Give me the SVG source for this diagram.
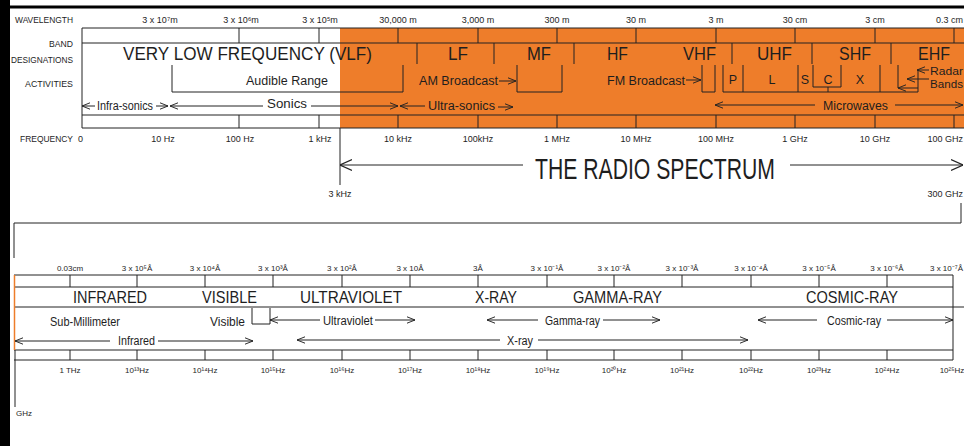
<svg xmlns="http://www.w3.org/2000/svg" width="964" height="446" viewBox="0 0 964 446">
<style>
.ln{stroke:#222;stroke-width:1;fill:none}
.t{font-family:"Liberation Sans",Arial,sans-serif;fill:#1e1e1e}
.sm{font-size:9px}
.xs{font-size:8px}
.act{font-size:12.5px}
.rb{font-size:11px}
.band{font-size:18px}
.band2{font-size:17px}
.mid{text-anchor:middle}
.end{text-anchor:end}
</style>
<defs>
<marker id="ah" viewBox="0 0 10 10" refX="10" refY="5" markerWidth="8" markerHeight="8" markerUnits="userSpaceOnUse" orient="auto-start-reverse"><path d="M0,1 L10,5 L0,9" fill="none" stroke="#222" stroke-width="1.2"/></marker>
<marker id="ahb" viewBox="0 0 10 10" refX="10" refY="5" markerWidth="12" markerHeight="12" markerUnits="userSpaceOnUse" orient="auto-start-reverse"><path d="M0,0.5 L10,5 L0,9.5" fill="none" stroke="#222" stroke-width="1"/></marker>
</defs>
<rect width="964" height="446" fill="#ffffff"/>
<g id="frame">
<rect x="0" y="0" width="10" height="446" fill="#000"/>
<rect x="0" y="5.5" width="964" height="3" fill="#000"/>
</g>

<g id="radio-spectrum">
<rect x="340" y="28" width="630" height="100" fill="#EE7D2A"/>
<path class="ln" d="M82,28 H964 M82,43 H964 M82,115 H964 M82,128 H964 M82,28 V128"/>
<path class="ln" d="M239,28 V43 M319,28 V43 M398,28 V43 M478,28 V43 M557,28 V43 M636,28 V43 M716,28 V43 M795,28 V43 M875,28 V43 M954,28 V43"/>
<path class="ln" d="M239,115 V128 M319,115 V128 M398,115 V128 M478,115 V128 M557,115 V128 M636,115 V128 M716,115 V128 M795,115 V128 M875,115 V128 M954,115 V128"/>
<path class="ln" d="M417,43 V64 M494,43 V64 M574,43 V64 M732,43 V64 M812,43 V64 M891,43 V64"/>
<g class="t">
<text class="sm end" x="73" y="23" textLength="58" lengthAdjust="spacingAndGlyphs">WAVELENGTH</text>
<text class="sm end" x="73" y="47" textLength="24" lengthAdjust="spacingAndGlyphs">BAND</text>
<text class="sm end" x="73" y="63" textLength="62" lengthAdjust="spacingAndGlyphs">DESIGNATIONS</text>
<text class="sm end" x="73" y="87" textLength="48" lengthAdjust="spacingAndGlyphs">ACTIVITIES</text>
<text class="sm end" x="73" y="142" textLength="53" lengthAdjust="spacingAndGlyphs">FREQUENCY</text>
<text class="sm" x="78" y="142">0</text>
</g>
<g class="t sm mid">
<text x="160" y="23">3 x 10⁷m</text>
<text x="241" y="23">3 x 10⁶m</text>
<text x="320" y="23">3 x 10⁵m</text>
<text x="398" y="23">30,000 m</text>
<text x="478" y="23">3,000 m</text>
<text x="557" y="23">300 m</text>
<text x="636" y="23">30 m</text>
<text x="716" y="23">3 m</text>
<text x="795" y="23">30 cm</text>
<text x="875" y="23">3 cm</text>
<text x="963" y="23" text-anchor="end">0.3 cm</text>
<text x="163" y="142">10 Hz</text>
<text x="240" y="142">100 Hz</text>
<text x="320" y="142">1 kHz</text>
<text x="398" y="142">10 kHz</text>
<text x="478" y="142">100kHz</text>
<text x="557" y="142">1 MHz</text>
<text x="636" y="142">10 MHz</text>
<text x="716" y="142">100 MHz</text>
<text x="795" y="142">1 GHz</text>
<text x="875" y="142">10 GHz</text>
<text x="963" y="142" text-anchor="end">100 GHz</text>
</g>
<g class="t band">
<text x="123" y="60" textLength="249" lengthAdjust="spacingAndGlyphs">VERY LOW FREQUENCY (VLF)</text>
<text x="448" y="60" textLength="20" lengthAdjust="spacingAndGlyphs">LF</text>
<text x="527" y="60" textLength="24" lengthAdjust="spacingAndGlyphs">MF</text>
<text x="607" y="60" textLength="21" lengthAdjust="spacingAndGlyphs">HF</text>
<text x="683" y="60" textLength="33" lengthAdjust="spacingAndGlyphs">VHF</text>
<text x="757" y="60" textLength="35" lengthAdjust="spacingAndGlyphs">UHF</text>
<text x="839" y="60" textLength="32" lengthAdjust="spacingAndGlyphs">SHF</text>
<text x="918" y="60" textLength="32" lengthAdjust="spacingAndGlyphs">EHF</text>
</g>
<g id="activities-radio">
<path class="ln" d="M172,65 V92 H403 V65"/>
<path class="ln" d="M517,65 V92 H562 V65"/>
<path class="ln" d="M702,65 V92 H715 V65"/>
<path class="ln" d="M723,65 V92 H918 V70 M743,65 V92 M798,65 V92 M880,65 V92 M898,65 V88"/>
<path class="ln" d="M813,65 V87 H841 V65 M828,87 V92"/>
<line class="ln" x1="499" y1="81" x2="516" y2="81" marker-end="url(#ah)"/>
<line class="ln" x1="686" y1="80" x2="701" y2="80" marker-end="url(#ah)"/>
<line class="ln" x1="917" y1="70" x2="929" y2="70" marker-start="url(#ah)"/>
<line class="ln" x1="907" y1="79" x2="929" y2="79" marker-start="url(#ah)"/>
<line class="ln" x1="898" y1="88" x2="918" y2="88" marker-start="url(#ah)"/>
<line class="ln" x1="82" y1="106" x2="95" y2="106" marker-start="url(#ah)"/>
<line class="ln" x1="156" y1="106" x2="168" y2="106" marker-end="url(#ah)"/>
<line class="ln" x1="170" y1="106" x2="263" y2="106" marker-start="url(#ah)"/>
<line class="ln" x1="311" y1="106" x2="398" y2="106" marker-end="url(#ah)"/>
<line class="ln" x1="400" y1="106" x2="425" y2="106" marker-start="url(#ah)"/>
<line class="ln" x1="498" y1="107" x2="513" y2="107" marker-end="url(#ah)"/>
<line class="ln" x1="715" y1="105" x2="815" y2="105" marker-start="url(#ah)"/>
<line class="ln" x1="895" y1="105" x2="963" y2="105" marker-end="url(#ah)"/>
<g class="t act">
<text x="246" y="85" textLength="82" lengthAdjust="spacingAndGlyphs">Audible Range</text>
<text x="419" y="85" textLength="79" lengthAdjust="spacingAndGlyphs">AM Broadcast</text>
<text x="607" y="85" textLength="78" lengthAdjust="spacingAndGlyphs">FM Broadcast</text>
<text x="97" y="110" textLength="56" lengthAdjust="spacingAndGlyphs">Infra-sonics</text>
<text x="267" y="108" textLength="40" lengthAdjust="spacingAndGlyphs">Sonics</text>
<text x="428" y="110" textLength="67" lengthAdjust="spacingAndGlyphs">Ultra-sonics</text>
<text x="823" y="110" textLength="65" lengthAdjust="spacingAndGlyphs">Microwaves</text>
<text class="rb" x="930" y="75" textLength="33" lengthAdjust="spacingAndGlyphs">Radar</text>
<text class="rb" x="930" y="88" textLength="33" lengthAdjust="spacingAndGlyphs">Bands</text>
<text class="mid" x="733" y="84">P</text>
<text class="mid" x="772" y="84">L</text>
<text class="mid" x="805" y="84">S</text>
<text class="mid" x="828" y="84">C</text>
<text class="mid" x="860" y="84">X</text>
</g>
</g>
<line class="ln" x1="340" y1="128" x2="340" y2="185"/>
<line class="ln" x1="340" y1="165" x2="523" y2="165" marker-start="url(#ahb)"/>
<line class="ln" x1="790" y1="165" x2="963" y2="165" marker-end="url(#ahb)"/>
<text class="t" x="535" y="179" font-size="29" textLength="240" lengthAdjust="spacingAndGlyphs">THE RADIO SPECTRUM</text>
<text class="t sm mid" x="340" y="197">3 kHz</text>
<text class="t sm" x="963" y="197" text-anchor="end">300 GHz</text>
</g>

<g id="connectors">
<path class="ln" d="M961,203 V223 H14 V258"/>
<path class="ln" d="M15,350 V407"/>
</g>

<g id="optical-spectrum">
<path class="ln" d="M14,275 H953 M14,287 H953 M14,307 H964 M14,350 H953 M14,360 H953 M953,275 V360"/>
<line x1="14.5" y1="275" x2="14.5" y2="350" stroke="#EE7D2A" stroke-width="1.5"/>
<path class="ln" d="M70,275 V287 M137,275 V287 M205,275 V287 M273,275 V287 M342,275 V287 M410,275 V287 M478,275 V287 M547,275 V287 M614,275 V287 M682,275 V287 M751,275 V287 M819,275 V287 M887,275 V287"/>
<path class="ln" d="M70,350 V360 M137,350 V360 M205,350 V360 M273,350 V360 M342,350 V360 M410,350 V360 M478,350 V360 M547,350 V360 M614,350 V360 M682,350 V360 M751,350 V360 M819,350 V360 M887,350 V360"/>
<g class="t xs mid">
<text x="70" y="271">0.03cm</text>
<text x="137" y="271">3 x 10⁵Å</text>
<text x="205" y="271">3 x 10⁴Å</text>
<text x="273" y="271">3 x 10³Å</text>
<text x="342" y="271">3 x 10²Å</text>
<text x="410" y="271">3 x 10Å</text>
<text x="478" y="271">3Å</text>
<text x="547" y="271">3 x 10⁻¹Å</text>
<text x="614" y="271">3 x 10⁻²Å</text>
<text x="682" y="271">3 x 10⁻³Å</text>
<text x="751" y="271">3 x 10⁻⁴Å</text>
<text x="819" y="271">3 x 10⁻⁵Å</text>
<text x="887" y="271">3 x 10⁻⁶Å</text>
<text x="963" y="271" text-anchor="end">3 x 10⁻⁷Å</text>
<text x="70" y="373">1 THz</text>
<text x="137" y="373">10¹³Hz</text>
<text x="205" y="373">10¹⁴Hz</text>
<text x="273" y="373">10¹⁵Hz</text>
<text x="342" y="373">10¹⁶Hz</text>
<text x="410" y="373">10¹⁷Hz</text>
<text x="478" y="373">10¹⁸Hz</text>
<text x="547" y="373">10¹⁹Hz</text>
<text x="614" y="373">10²⁰Hz</text>
<text x="682" y="373">10²¹Hz</text>
<text x="751" y="373">10²²Hz</text>
<text x="819" y="373">10²³Hz</text>
<text x="887" y="373">10²⁴Hz</text>
<text x="952" y="373">10²⁵Hz</text>
</g>
<text class="t xs" x="16" y="416">GHz</text>
<g class="t band2">
<text x="73" y="303" textLength="74" lengthAdjust="spacingAndGlyphs">INFRARED</text>
<text x="202" y="303" textLength="55" lengthAdjust="spacingAndGlyphs">VISIBLE</text>
<text x="300" y="303" textLength="102" lengthAdjust="spacingAndGlyphs">ULTRAVIOLET</text>
<text x="475" y="303" textLength="42" lengthAdjust="spacingAndGlyphs">X-RAY</text>
<text x="573" y="303" textLength="89" lengthAdjust="spacingAndGlyphs">GAMMA-RAY</text>
<text x="806" y="303" textLength="92" lengthAdjust="spacingAndGlyphs">COSMIC-RAY</text>
</g>
<path class="ln" d="M252,308 V324 H270 V308"/>
<line class="ln" x1="270" y1="320" x2="320" y2="320" marker-start="url(#ah)"/>
<line class="ln" x1="375" y1="320" x2="415" y2="320" marker-end="url(#ah)"/>
<line class="ln" x1="487" y1="320" x2="538" y2="320" marker-start="url(#ah)"/>
<line class="ln" x1="603" y1="320" x2="660" y2="320" marker-end="url(#ah)"/>
<line class="ln" x1="758" y1="320" x2="817" y2="320" marker-start="url(#ah)"/>
<line class="ln" x1="887" y1="320" x2="953" y2="320" marker-end="url(#ah)"/>
<line class="ln" x1="15" y1="341" x2="110" y2="341" marker-start="url(#ah)"/>
<line class="ln" x1="158" y1="341" x2="253" y2="341" marker-end="url(#ah)"/>
<line class="ln" x1="297" y1="340" x2="500" y2="340" marker-start="url(#ah)"/>
<line class="ln" x1="538" y1="340" x2="748" y2="340" marker-end="url(#ah)"/>
<g class="t act">
<text x="50" y="326" textLength="70" lengthAdjust="spacingAndGlyphs">Sub-Millimeter</text>
<text x="210" y="326" textLength="35" lengthAdjust="spacingAndGlyphs">Visible</text>
<text x="323" y="325" textLength="50" lengthAdjust="spacingAndGlyphs">Ultraviolet</text>
<text x="545" y="325" textLength="55" lengthAdjust="spacingAndGlyphs">Gamma-ray</text>
<text x="827" y="325" textLength="54" lengthAdjust="spacingAndGlyphs">Cosmic-ray</text>
<text x="118" y="345" textLength="37" lengthAdjust="spacingAndGlyphs">Infrared</text>
<text x="507" y="345" textLength="26" lengthAdjust="spacingAndGlyphs">X-ray</text>
</g>
</g>
</svg>
